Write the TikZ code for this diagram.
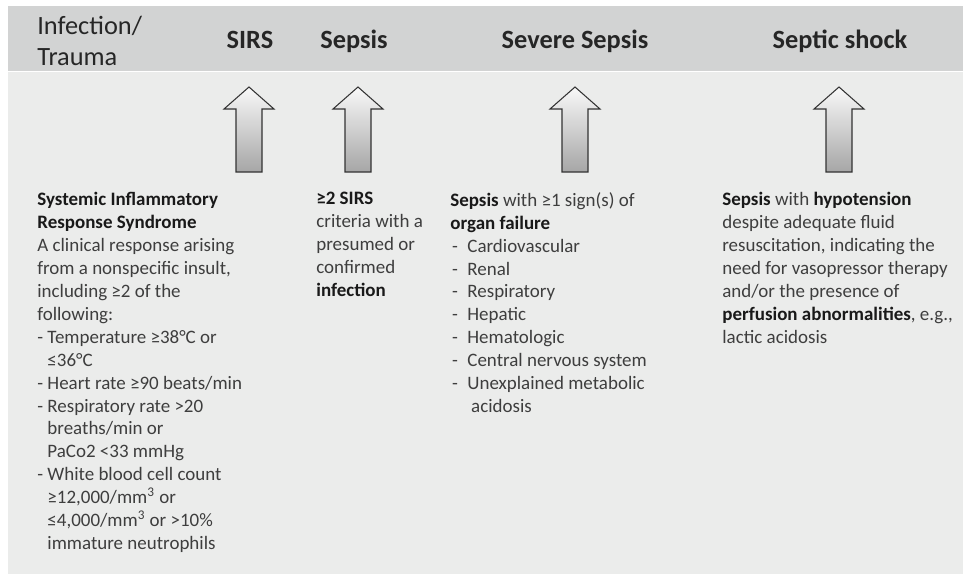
\documentclass[tikz,border=0pt]{standalone}
\usepackage{fontspec}
\setmainfont{Carlito}
\usepackage{tikz}

\definecolor{headgray}{RGB}{210,211,211}
\definecolor{bodygray}{RGB}{235,236,235}
\definecolor{txtgray}{RGB}{62,62,62}
\newcommand{\hd}[1]{\textcolor{black!90}{\textbf{#1}}}
\newcommand{\ind}{\phantom{-}\ }
\newcommand{\bl}{\hspace{1pt}-\hspace{0.5em}}

\begin{document}
\begin{tikzpicture}[x=0.02cm,y=-0.02cm,
  head/.style={font=\fontsize{15}{17.6}\selectfont,inner sep=0pt,text=black!85},
  body/.style={font=\fontsize{10.8}{13.05}\selectfont,inner sep=0pt,align=left,anchor=north west,text=txtgray},
  blockarrow/.style={draw=black!80,line width=0.6pt,top color=gray!5,bottom color=gray!70}]
\useasboundingbox (0,0) rectangle (963,575);
\fill[white] (0,0) rectangle (963,575);
\fill[headgray] (8,6) rectangle (963,71);
\fill[bodygray] (8,72) rectangle (963,574);
%
\node[head,align=left,anchor=north west] (infection) at (37,16) {Infection/\\Trauma};
\node[head,anchor=base] (sirs) at (250,48) {\textbf{SIRS}};
\node[head,anchor=base] (sepsis) at (354,48) {\textbf{Sepsis}};
\node[head,anchor=base] (severe) at (575,48) {\textbf{Severe Sepsis}};
\node[head,anchor=base] (shock) at (840,48) {\textbf{Septic shock}};
%
\foreach \x in {249,358,575,839}
  \draw[blockarrow] (\x-13,172) -- (\x-13,109) -- (\x-25,109) -- (\x,87)
    -- (\x+25,109) -- (\x+13,109) -- (\x+13,172) -- cycle;
%
\node[body] (sirsText) at (37,192) {\hd{Systemic Inflammatory}\\
\hd{Response Syndrome}\\
A clinical response arising\\
from a nonspecific insult,\\
including ≥2 of the\\
following:\\
- Temperature ≥38°C or\\
\ind ≤36°C\\
- Heart rate ≥90 beats/min\\
- Respiratory rate >20\\
\ind breaths/min or\\
\ind PaCo2 <33 mmHg\\
- White blood cell count\\
\ind ≥12,000/mm\textsuperscript{3} or\\
\ind ≤4,000/mm\textsuperscript{3} or >10\%\\
\ind immature neutrophils};
%
\node[body] (sepsisText) at (316,192) {\hd{≥2 SIRS}\\
criteria with a\\
presumed or\\
confirmed\\
\hd{infection}};
%
\node[body] (severeText) at (450,192) {\hd{Sepsis} with ≥1 sign(s) of\\
\hd{organ failure}\\
\bl Cardiovascular\\
\bl Renal\\
\bl Respiratory\\
\bl Hepatic\\
\bl Hematologic\\
\bl Central nervous system\\
\bl Unexplained metabolic\\
\hspace{1.1em}acidosis};
%
\node[body] (shockText) at (722,192) {\hd{Sepsis} with \hd{hypotension}\\
despite adequate fluid\\
resuscitation, indicating the\\
need for vasopressor therapy\\
and/or the presence of\\
\hd{perfusion abnormalities}, e.g.,\\
lactic acidosis};
\end{tikzpicture}
\end{document}
